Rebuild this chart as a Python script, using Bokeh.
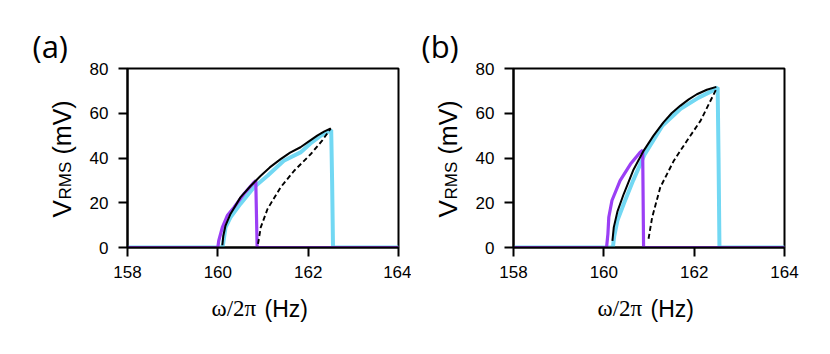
import numpy as np
from bokeh.plotting import figure
from bokeh.layouts import row
from bokeh.models import Label, FixedTicker, Range1d
from bokeh.embed import file_html
from bokeh.resources import INLINE

# ---------------- data ----------------
x_ticks = [158, 160, 162, 164]
y_ticks = [0, 20, 40, 60, 80]

# panel (a)
a_cyan_x = [158.0, 160.10, 160.12, 160.17, 160.28, 160.50, 160.80, 161.10, 161.46, 161.83, 162.05, 162.28, 162.51, 162.53, 162.55, 164.0]
a_cyan_y = [0, 0, 2, 9, 13.5, 19.5, 26.9, 32.1, 38.8, 42.5, 46.5, 50.0, 52.5, 30, 0, 0]
a_purple_x = [158.0, 160.00, 160.02, 160.10, 160.21, 160.36, 160.58, 160.80, 160.84, 160.87, 164.0]
a_purple_y = [0, 0, 3, 9, 14.3, 18.0, 24.0, 29.1, 29.9, 0, 0]
a_black_x = [160.10, 160.12, 160.17, 160.28, 160.50, 160.73, 160.95, 161.15, 161.39, 161.60, 161.83, 162.00, 162.20, 162.35, 162.50]
a_black_y = [1.0, 5.0, 9.8, 15.0, 22.4, 27.6, 32.1, 35.8, 39.5, 42.4, 44.8, 47.2, 50.0, 51.8, 53.2]
a_dash_x = [160.89, 160.95, 161.10, 161.39, 161.69, 162.06, 162.30, 162.50]
a_dash_y = [1.6, 9.0, 17.2, 26.9, 34.3, 41.8, 47.5, 53.2]

# panel (b)
b_cyan_x = [158.0, 160.20, 160.23, 160.30, 160.45, 160.65, 160.90, 161.30, 161.70, 162.10, 162.40, 162.52, 162.54, 162.56, 164.0]
b_cyan_y = [0, 0, 5, 12, 20, 30, 41.5, 54.5, 62.0, 67.0, 70.0, 71.5, 40, 0, 0]
b_purple_x = [158.0, 160.06, 160.09, 160.11, 160.18, 160.36, 160.59, 160.80, 160.86, 160.88, 164.0]
b_purple_y = [0, 0, 6, 13.5, 21.0, 29.9, 37.3, 42.5, 43.5, 0, 0]
b_black_x = [160.19, 160.22, 160.30, 160.44, 160.65, 160.88, 161.10, 161.32, 161.50, 161.69, 161.88, 162.06, 162.28, 162.49]
b_black_y = [3.0, 9.0, 16.0, 23.9, 34.5, 43.2, 50.0, 55.9, 60.0, 63.3, 66.2, 68.5, 70.5, 71.8]
b_dash_x = [160.99, 161.07, 161.25, 161.55, 161.84, 162.14, 162.49]
b_dash_y = [3.9, 13.5, 26.9, 38.8, 47.7, 56.6, 70.8]

CYAN = "#72d8f3"
PURPLE = "#9b3ff5"
SANS = "Liberation Sans"
SERIF = "Liberation Serif"


def lab(p, side, text, xo, yo, font=SANS, size=25, angle=0.0):
    # text positioned in data units from the frame's lower-left corner (plus pixel offsets);
    # it is held in a side panel so that it is not clipped to the plot frame
    p.add_layout(Label(x=158, y=0, x_offset=xo, y_offset=yo, text=text,
                       text_font=font, text_font_size=f"{size}px", text_color="black",
                       text_align="left", text_baseline="alphabetic", angle=angle), side)


def make(panel, panel_xo, rms_side, cx, cy, px_, py_, bx, by, dx, dy, bl, br):
    p = figure(width=bl + 271 + br, height=350, output_backend="svg", toolbar_location=None,
               x_range=Range1d(158, 164), y_range=Range1d(0, 80),
               min_border_left=bl, min_border_right=br, min_border_top=68, min_border_bottom=103)
    p.xgrid.visible = False
    p.ygrid.visible = False
    p.background_fill_color = "white"
    p.border_fill_color = "white"
    p.outline_line_color = "black"
    p.outline_line_width = 2
    for ax, t in ((p.xaxis[0], x_ticks), (p.yaxis[0], y_ticks)):
        ax.ticker = FixedTicker(ticks=t)
        ax.minor_tick_line_color = None
        ax.major_tick_in = 0
        ax.major_tick_out = 9
        ax.major_tick_line_width = 2
        ax.axis_line_width = 2
        ax.axis_line_color = "black"
        ax.major_tick_line_color = "black"
        ax.major_label_text_font = SANS
        ax.major_label_text_font_size = "17px"
        ax.major_label_text_color = "black"
    p.xaxis.major_label_standoff = 9
    p.yaxis.major_label_standoff = 10

    p.line(cx, cy, line_color=CYAN, line_width=4)
    p.line(px_, py_, line_color=PURPLE, line_width=3.2)
    p.line(bx, by, line_color="black", line_width=2)
    p.line(dx, dy, line_color="black", line_width=1.9, line_dash="5 3")

    # y-axis label: V_RMS (mV), rotated
    a = np.pi / 2
    lab(p, "left", "V", -66, 30, size=26, angle=a)
    lab(p, rms_side, "RMS", -62, 48, size=17, angle=a)
    lab(p, "left", "(mV)", -66, 93, size=25, angle=a)

    # x-axis label: ω/2π (Hz)
    lab(p, "above", "ω/2π", 84, -61, font=SERIF, size=23)
    lab(p, "below", "(Hz)", 137, -61, size=23)

    # panel letter
    lab(p, "above", panel, panel_xo, 202, font="Open Sans", size=31)
    return p


pa = make("(a)", -95, "left", a_cyan_x, a_cyan_y, a_purple_x, a_purple_y, a_black_x, a_black_y, a_dash_x, a_dash_y, 127, 13)
pb = make("(b)", -92, "right", b_cyan_x, b_cyan_y, b_purple_x, b_purple_y, b_black_x, b_black_y, b_dash_x, b_dash_y, 102, 44)

layout = row(pa, pb)
open("out.html", "w").write(file_html(layout, INLINE))
